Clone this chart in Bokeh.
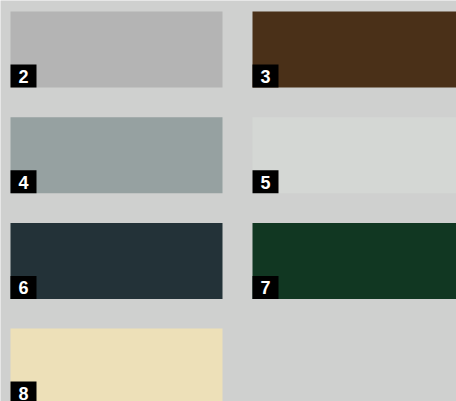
from bokeh.plotting import figure
from bokeh.models import Range1d, ColumnDataSource
from bokeh.core.properties import value
from bokeh.embed import file_html
from bokeh.resources import INLINE

# Data
labels = ["2", "3", "4", "5", "6", "7", "8"]
colors = ["#b4b4b4", "#4a3018", "#96a1a1", "#d4d7d4", "#233238", "#113722", "#ede0b8"]

BG = "#cfd0cf"
n_cols = 2
sw_w, sw_h = 212, 76
gap_x, gap_y = 242, 105.7
left0, top0 = 10, 11
lab_w, lab_h = 26, 23

x0, x1, y0, y1, lx0, lx1, ly0, ly1, tx, ty = ([] for _ in range(10))
for i, _ in enumerate(labels):
    c, r = i % n_cols, i // n_cols
    xa = left0 + c * gap_x
    ya = top0 + r * gap_y
    x0.append(xa); x1.append(xa + sw_w)
    y0.append(ya); y1.append(ya + sw_h)
    lx0.append(xa); lx1.append(xa + lab_w)
    ly0.append(ya + sw_h - lab_h); ly1.append(ya + sw_h)
    tx.append(xa + lab_w / 2); ty.append(ya + sw_h - lab_h / 2 + 0.5)

src = ColumnDataSource(dict(x0=x0, x1=x1, y0=y0, y1=y1, lx0=lx0, lx1=lx1,
                            ly0=ly0, ly1=ly1, tx=tx, ty=ty, c=colors, t=labels))

p = figure(width=456, height=401, output_backend="svg", toolbar_location=None,
           x_range=Range1d(0, 456), y_range=Range1d(401, 0), min_border=0)
p.axis.visible = False
p.grid.visible = False
p.outline_line_color = None
p.background_fill_color = BG
p.border_fill_color = BG

p.quad(left="x0", right="x1", top="y0", bottom="y1", fill_color="c",
       line_color=None, source=src)
p.quad(left="lx0", right="lx1", top="ly0", bottom="ly1", fill_color="#000000",
       line_color=None, source=src)
p.text(x="tx", y="ty", text="t", source=src, text_color="#ffffff",
       text_font=value("Liberation Sans"), text_font_style="bold",
       text_font_size="18px", text_align="center", text_baseline="middle")

html = file_html(p, INLINE)
html = html.replace("<body>", '<body style="background:%s">' % BG, 1)
open("out.html", "w").write(html)
